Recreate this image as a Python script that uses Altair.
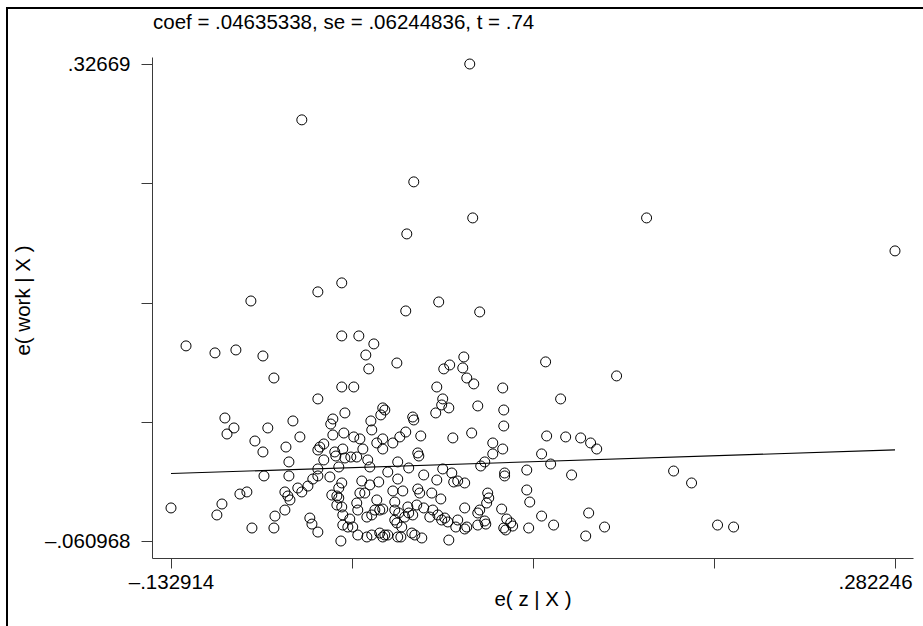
import altair as alt
import pandas as pd

FONT = "Liberation Sans"

title_text = "coef = .04635338, se = .06244836, t = .74"
x_title = "e( z | X )"
y_title = "e( work | X )"
coef = 0.04635338

x_ticks = [-0.132914, -0.029124, 0.074666, 0.178456, 0.282246]
y_ticks = [-0.060968, 0.0359465, 0.132861, 0.2297755, 0.32669]
x_domain = [-0.14381, 0.29257]
y_domain = [-0.07478, 0.33238]

x_vals = [
    0.0384, -0.0579, 0.0063, 0.0401, 0.1398, 0.0023, 0.282246, -0.0350, -0.0487, -0.0871,
    -0.1243, -0.1077, -0.0957, -0.0802, -0.0739, -0.0350, -0.0252, -0.0166, -0.0212, -0.0195,
    -0.0034, -0.0487, -0.0350, -0.0281, -0.0332, -0.0115, -0.0103, -0.0126, -0.1020, -0.0968,
    -0.1008, -0.0774, -0.0630, -0.0848, -0.0802, -0.0590, -0.0670, -0.0653, -0.0401, -0.0413,
    -0.0183, -0.0178, -0.0401, -0.0338, -0.0281, -0.0246, -0.0487, -0.0476, -0.0453, -0.0453,
    -0.0390, -0.0384, -0.0344, -0.0332, -0.0298, -0.0264, -0.0229, -0.0201, -0.0189, -0.0149,
    -0.0115, -0.0115, -0.0057, -0.0029, -0.0367, -0.0487, -0.0487, -0.0418, -0.0516, -0.0544,
    -0.0579, -0.0602, -0.0676, -0.0647, -0.0659, -0.0796, -0.0653, -0.0894, -0.0934, -0.1037,
    -0.1066, -0.132914, -0.0865, -0.0739, -0.0733, -0.0676, -0.0533, -0.0521, -0.0487, -0.0355,
    -0.0350, -0.0367, -0.0378, -0.0407, -0.0367, -0.0350, -0.0378, -0.0235, -0.0189, -0.0138,
    -0.0246, -0.0218, -0.0264, -0.0258, -0.0344, -0.0304, -0.0344, -0.0315, -0.0287, -0.0258,
    -0.0206, -0.0178, -0.0132, -0.0115, -0.0086, -0.0206, -0.0178, -0.0132, -0.0160, -0.0149,
    -0.0115, -0.0057, -0.0046, -0.0046, -0.0046, -0.0023, -0.0029,
    0.0206, 0.0017, 0.0441, 0.0350, 0.0269, 0.0235, 0.0344, 0.0367, 0.0407, 0.0195,
    0.0229, 0.0223, 0.0264, 0.0189, 0.0430, 0.0573, 0.0579, 0.0579, 0.0573, 0.0516,
    0.0516, 0.0470, 0.0447, 0.0819, 0.0905, 0.1226, 0.0825, 0.0934, 0.1020, 0.1077,
    0.1112, 0.0796, 0.0848, 0.0968, 0.0711, 0.0711, 0.0728, 0.0796, 0.0865, 0.1066,
    0.1157, 0.1049, 0.0722, 0.0567, 0.0596, 0.0619, 0.0630, 0.0579, 0.0590, 0.0487,
    0.0493, 0.0481, 0.0430, 0.0441, 0.0470, 0.0476, 0.0430, 0.0355, 0.0367, 0.0355,
    0.0315, 0.0304, 0.0264, 0.0355, 0.0315, 0.0292, 0.0281, 0.0229, 0.0195, 0.0218,
    0.0166, 0.0120, 0.0097, 0.0086, 0.0086, 0.0092, 0.0057, 0.0063, 0.0103, 0.0287,
    0.0395, 0.0017, -0.0017, 0.0034,
    -0.0029, -0.0086, 0.0000, 0.0029, 0.0080, 0.0120, 0.0172, 0.0201, 0.0155, 0.0241,
    0.0258, 0.0223, 0.0057, 0.0034, 0.0011, -0.0034, -0.0006, 0.0052, 0.0069, 0.0109,
    -0.0011, -0.0103, 0.0584, 0.0584, 0.1553, 0.1656, 0.1805, 0.1897,
]

y_vals = [
    0.32669, 0.2813, 0.2309, 0.2016, 0.2016, 0.1886, 0.1748, 0.1488, 0.1415, 0.1341,
    0.0976, 0.0919, 0.0943, 0.0894, 0.0715, 0.1057, 0.1057, 0.0992, 0.0902, 0.0789,
    0.0837, 0.0545, 0.0642, 0.0642, 0.0431, 0.0472, 0.0455, 0.0415, 0.0390, 0.0309,
    0.0260, 0.0309, 0.0366, 0.0203, 0.0114, 0.0236, 0.0154, 0.0033, 0.0382, 0.0341,
    0.0366, 0.0293, 0.0252, 0.0268, 0.0236, 0.0220, 0.0130, 0.0154, 0.0179, 0.0049,
    0.0114, 0.0081, 0.0138, 0.0065, 0.0073, 0.0073, 0.0138, 0.0049, -0.0008, 0.0187,
    0.0220, 0.0138, 0.0187, 0.0033, -0.0008, -0.0024, -0.0081, -0.0089, -0.0106, -0.0163,
    -0.0211, -0.0179, -0.0211, -0.0276, -0.0244, -0.0081, -0.0081, -0.0211, -0.0228, -0.0309,
    -0.0398, -0.0341, -0.0504, -0.0504, -0.0407, -0.0358, -0.0423, -0.0472, -0.0537, -0.060968,
    -0.0138, -0.0179, -0.0244, -0.0236, -0.0260, -0.0333, -0.0317, -0.0122, -0.0154, -0.0130,
    -0.0220, -0.0220, -0.0301, -0.0358, -0.0398, -0.0431, -0.0480, -0.0496, -0.0496, -0.0561,
    -0.0577, -0.0561, -0.0545, -0.0577, -0.0561, -0.0415, -0.0398, -0.0358, -0.0358, -0.0276,
    -0.0350, -0.0203, -0.0293, -0.0358, -0.0439, -0.0382, -0.0577,
    0.1333, 0.1260, 0.1252, 0.0886, 0.0821, 0.0789, 0.0797, 0.0715, 0.0667, 0.0642,
    0.0545, 0.0496, 0.0472, 0.0431, 0.0488, 0.0634, 0.0455, 0.0325, 0.0138, 0.0187,
    0.0098, 0.0033, 0.0000, 0.0846, 0.0545, 0.0732, 0.0244, 0.0236, 0.0228, 0.0187,
    0.0138, 0.0098, 0.0016, -0.0073, -0.0033, -0.0195, -0.0293, -0.0407, -0.0480, -0.0382,
    -0.0496, -0.0569, -0.0504, -0.0350, -0.0431, -0.0463, -0.0488, -0.0504, -0.0520, -0.0220,
    -0.0260, -0.0301, -0.0382, -0.0358, -0.0447, -0.0472, -0.0480, -0.0341, -0.0496, -0.0512,
    -0.0439, -0.0496, -0.0602, -0.0138, -0.0122, -0.0130, -0.0057, -0.0024, -0.0114, -0.0268,
    -0.0220, -0.0073, -0.0220, -0.0187, 0.0106, 0.0081, 0.0398, 0.0374, 0.0244, 0.0228,
    0.0268, 0.0276, 0.0236, -0.0016,
    -0.0106, -0.0049, -0.0203, -0.0333, -0.0317, -0.0341, -0.0358, -0.0398, -0.0415, -0.0423,
    -0.0455, -0.0439, -0.0398, -0.0382, -0.0415, -0.0463, -0.0496, -0.0545, -0.0561, -0.0585,
    -0.0577, -0.0561, -0.0057, -0.0081, -0.0041, -0.0138, -0.0480, -0.0496,
]

pts = pd.DataFrame({"x": x_vals, "y": y_vals})
xmin, xmax = min(x_vals), max(x_vals)
fit = pd.DataFrame({"x": [xmin, xmax], "y": [coef * xmin, coef * xmax]})
one = pd.DataFrame({"k": [0]})

AXIS_COLOR = "#3a3a3a"

xscale = alt.Scale(domain=x_domain, nice=False, zero=False)
yscale = alt.Scale(domain=y_domain, nice=False, zero=False)

xaxis = alt.Axis(
    values=x_ticks,
    labelExpr="datum.value < -0.1 ? '\u2013.132914' : (datum.value > 0.25 ? '.282246' : '')",
    title=x_title, grid=False, tickSize=10, labelPadding=4,
    labelFont=FONT, labelFontSize=20.5, labelColor="black",
    labelFlush=False, labelOverlap=False, labelBound=False,
    labelOffset={"condition": {"test": "datum.value > 0.25", "value": -20}, "value": 0},
    titleFont=FONT, titleFontSize=20.5, titleFontWeight="normal", titleColor="black",
    titleBaseline="alphabetic", titleY=47,
    domainColor=AXIS_COLOR, tickColor=AXIS_COLOR, domainWidth=1, tickWidth=1,
)
yaxis = alt.Axis(
    values=y_ticks,
    labelExpr="datum.value < -0.05 ? '\u2013.060968' : (datum.value > 0.3 ? '.32669' : '')",
    title=y_title, grid=False, tickSize=11, labelPadding=11,
    labelFont=FONT, labelFontSize=20.5, labelColor="black",
    labelFlush=False, labelOverlap=False, labelBound=False,
    titleFont=FONT, titleFontSize=20.5, titleFontWeight="normal", titleColor="black",
    titleAngle=270, titleBaseline="alphabetic", titleAlign="center",
    titleX=-123, titleY=243,
    domainColor=AXIS_COLOR, tickColor=AXIS_COLOR, domainWidth=1, tickWidth=1,
)

points = alt.Chart(pts).mark_point(
    shape="circle", filled=False, stroke="black", strokeWidth=1, size=100, opacity=1
).encode(
    x=alt.X("x:Q", scale=xscale, axis=xaxis),
    y=alt.Y("y:Q", scale=yscale, axis=yaxis),
)

line = alt.Chart(fit).mark_line(color="black", strokeWidth=1.1).encode(
    x=alt.X("x:Q", scale=xscale),
    y=alt.Y("y:Q", scale=yscale),
)

title = alt.Chart(one).mark_text(
    align="left", baseline="alphabetic", font=FONT, fontSize=20.5, color="black"
).encode(x=alt.value(1), y=alt.value(-28), text=alt.value(title_text))

frame_left = alt.Chart(one).mark_rule(color="black", strokeWidth=2).encode(
    x=alt.value(-145), y=alt.value(-49), y2=alt.value(600)
)
frame_top = alt.Chart(one).mark_rule(color="black", strokeWidth=2).encode(
    x=alt.value(-146), x2=alt.value(800), y=alt.value(-49)
)

chart = alt.layer(points, line, title, frame_left, frame_top).properties(
    width=761, height=501,
    padding={"left": 152, "top": 57, "right": 10, "bottom": 68},
    autosize=alt.AutoSizeParams(type="none"),
    background="white",
).configure_view(stroke=None)

chart.save("out.html", embed_options={"renderer": "svg", "actions": False})
